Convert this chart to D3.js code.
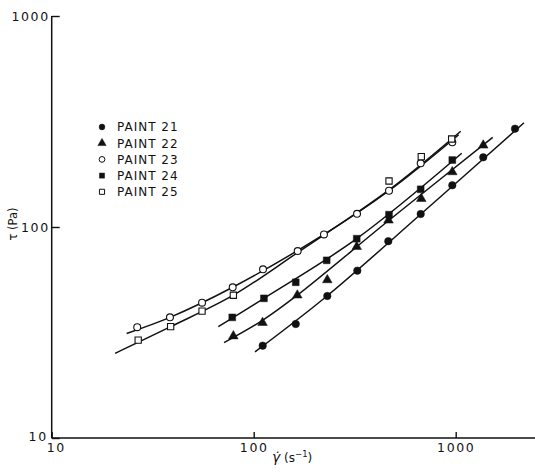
<!DOCTYPE html>
<html>
<head>
<meta charset="utf-8">
<script src="https://cdn.jsdelivr.net/npm/d3@7"></script>
<style>
  body { margin: 0; background: #fff; }
  text { font-family: "DejaVu Sans", Arial, sans-serif; fill: #111; }
</style>
</head>
<body>
<svg id="chart" width="535" height="474"></svg>
<script>
// tick values
const xTicks = [10, 100, 1000];
const yTicks = [10, 100, 1000];

// series names, in legend order
const paintNames = ["PAINT 21", "PAINT 22", "PAINT 23", "PAINT 24", "PAINT 25"];

// measured points: shear rate (1/s) and stress (Pa)
const rate21 = [110.8, 161.5, 231.4, 325.8, 463.8, 670.9, 962, 1369, 1966];
const stress21 = [27.4, 34.7, 47.1, 62.1, 85.7, 115.2, 157.6, 213.9, 292.4];

const rate22 = [79.3, 110.6, 164.4, 231.4, 323.6, 464.9, 675.5, 962, 1369];
const stress22 = [30.4, 35.2, 47.5, 56.1, 80.6, 107.6, 136.2, 182.3, 243.9];

const rate23 = [26.5, 38.5, 55.5, 78.7, 111.2, 165.1, 222.8, 324.7, 467.6, 670.9, 962];
const stress23 = [33.5, 37.3, 43.8, 51.8, 63.0, 76.9, 92.2, 115.5, 148.5, 200.4, 252.0];

const rate24 = [78.3, 112.4, 161.5, 229.8, 323.6, 467.6, 670.9, 962];
const stress24 = [37.3, 45.9, 54.7, 69.5, 88.0, 114.4, 150.9, 207.7];

const rate25 = [26.8, 38.8, 55.5, 79.3, 467.6, 675.5, 955];
const stress25 = [29.1, 33.7, 39.9, 47.5, 165.2, 215.4, 261.2];

// hand-drawn fit curves
const fitRate21 = [101.5, 230.6, 673.2, 2178];
const fitStress21 = [25.6, 47.1, 115.2, 312];
const fitRate22 = [71.3, 110.6, 164.4, 467.6, 1525];
const fitStress22 = [28.3, 36.1, 47.5, 107.6, 266.1];
const fitRate23 = [23.5, 38.5, 78.7, 222.8, 467.6, 1035];
const fitStress23 = [31.3, 37.3, 51.8, 92.2, 148.5, 273.8];
const fitRate24 = [66.8, 112.4, 323.6, 1071];
const fitStress24 = [33.7, 45.9, 88.0, 223.5];
const fitRate25 = [20.6, 38.8, 79.3, 165.1, 467.6, 1059];
const fitStress25 = [25.2, 33.7, 47.5, 75.7, 149.8, 284.2];

const series = [
  {rate: rate21, stress: stress21, fitRate: fitRate21, fitStress: fitStress21, symbol: d3.symbolCircle, filled: true},
  {rate: rate22, stress: stress22, fitRate: fitRate22, fitStress: fitStress22, symbol: d3.symbolTriangle, filled: true},
  {rate: rate23, stress: stress23, fitRate: fitRate23, fitStress: fitStress23, symbol: d3.symbolCircle, filled: false},
  {rate: rate24, stress: stress24, fitRate: fitRate24, fitStress: fitStress24, symbol: d3.symbolSquare, filled: true},
  {rate: rate25, stress: stress25, fitRate: fitRate25, fitStress: fitStress25, symbol: d3.symbolSquare, filled: false}
];

const width = 535, height = 474;
const margin = {top: 16, left: 51.7, bottom: 36};
const ink = "#111";

const x = d3.scaleLog().domain([10, 1000]).range([margin.left, 455.7]);
const y = d3.scaleLog().domain([10, 1000]).range([height - margin.bottom, margin.top]);

const svg = d3.select("#chart");
svg.append("rect").attr("width", width).attr("height", height).attr("fill", "#fff");

// fit curves
const line = d3.line()
  .x(d => x(d[0]))
  .y(d => y(d[1]))
  .curve(d3.curveCatmullRom.alpha(0.5));

svg.append("g")
  .selectAll("path").data(series).enter().append("path")
  .attr("d", s => line(s.fitRate.map((r, i) => [r, s.fitStress[i]])))
  .attr("fill", "none")
  .attr("stroke", ink)
  .attr("stroke-width", 1.5);

// markers
const markerSize = {circle: 44, triangle: 40, square: 46};
series.forEach(s => {
  const area = s.symbol === d3.symbolCircle ? markerSize.circle
    : s.symbol === d3.symbolTriangle ? markerSize.triangle : markerSize.square;
  svg.append("g")
    .selectAll("path").data(s.rate.map((r, i) => [r, s.stress[i]])).enter().append("path")
    .attr("transform", d => `translate(${x(d[0])},${y(d[1])})`)
    .attr("d", d3.symbol().type(s.symbol).size(s.filled ? area : area * 0.85))
    .attr("fill", s.filled ? ink : "#fff")
    .attr("stroke", ink)
    .attr("stroke-width", s.filled ? 0.5 : 1.1);
});

// axes
const xAxis = g => g
  .attr("transform", `translate(0,${height - margin.bottom})`)
  .call(d3.axisBottom(x).tickValues(xTicks).tickFormat(d3.format("d"))
    .tickSizeInner(-6).tickSizeOuter(0).tickPadding(5))
  .call(g => g.select(".domain").remove());

const yAxis = g => g
  .attr("transform", `translate(${margin.left},0)`)
  .call(d3.axisLeft(y).tickValues(yTicks).tickFormat(d3.format("d"))
    .tickSizeInner(-8).tickSizeOuter(0).tickPadding(2))
  .call(g => g.select(".domain").remove());

const gx = svg.append("g").call(xAxis);
const gy = svg.append("g").call(yAxis);

svg.selectAll(".tick line").attr("stroke", ink).attr("stroke-width", 1.4);
svg.selectAll(".tick text")
  .attr("fill", ink)
  .style("font-size", "12.5px")
  .style("letter-spacing", "1.6px")
  .style("font-family", "'DejaVu Sans', sans-serif");

// the two "10" labels share the corner
gx.selectAll(".tick text").filter(d => d === 10).attr("x", 4);
gy.selectAll(".tick text").filter(d => d === 10).attr("x", -4).attr("y", -2);

// axis lines
svg.append("line")
  .attr("x1", margin.left).attr("x2", width)
  .attr("y1", y(10)).attr("y2", y(10))
  .attr("stroke", ink).attr("stroke-width", 1.5);
svg.append("line")
  .attr("x1", margin.left).attr("x2", margin.left)
  .attr("y1", y(1000)).attr("y2", y(10))
  .attr("stroke", ink).attr("stroke-width", 1.5);

// axis titles
const xt = svg.append("text")
  .attr("x", 272).attr("y", 462)
  .style("font-size", "12px");
xt.append("tspan").style("font-style", "italic").style("font-size", "14px").text("γ\u0307");
xt.append("tspan").text(" (s");
xt.append("tspan").attr("dy", -5).style("font-size", "8.5px").text("−1");
xt.append("tspan").attr("dy", 5).text(")");

svg.append("text")
  .attr("transform", "translate(17,224) rotate(-90)")
  .attr("text-anchor", "middle")
  .style("font-size", "11.5px")
  .text("τ (Pa)");

// legend
const legend = svg.append("g").attr("transform", "translate(102,127)");
const rows = legend.selectAll("g").data(series).enter().append("g")
  .attr("transform", (d, i) => `translate(0,${i * 16.2})`);
rows.append("path")
  .attr("d", s => d3.symbol().type(s.symbol).size(s.symbol === d3.symbolTriangle ? 30 : 26)())
  .attr("fill", s => s.filled ? ink : "#fff")
  .attr("stroke", ink)
  .attr("stroke-width", s => s.filled ? 0.5 : 1);
rows.append("text")
  .attr("x", 15).attr("dy", "0.36em")
  .style("font-size", "12px")
  .style("letter-spacing", "1px")
  .text((d, i) => paintNames[i]);
</script>
</body>
</html>
